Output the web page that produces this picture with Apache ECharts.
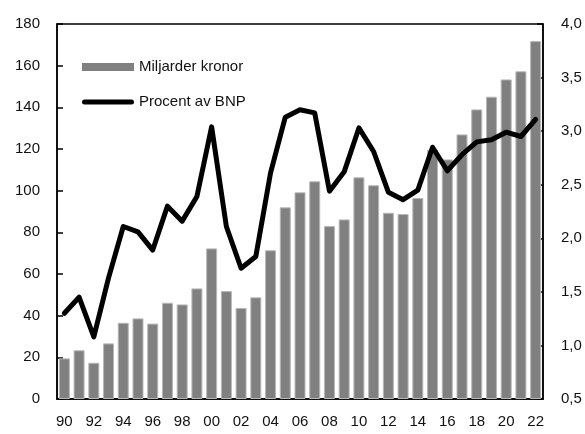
<!DOCTYPE html>
<html><head><meta charset="utf-8">
<script src="https://cdn.jsdelivr.net/npm/echarts@6/dist/echarts.min.js"></script>
<style>html,body{margin:0;padding:0;background:#fff}#c{width:585px;height:434px}</style>
</head><body><div id="c"></div>
<script>
const years = ['90','91','92','93','94','95','96','97','98','99','00','01','02','03','04','05','06','07','08','09','10','11','12','13','14','15','16','17','18','19','20','21','22'];
const miljarder = [19.5,23.4,17.4,26.7,36.6,38.7,36.2,46.2,45.4,53.1,72.3,51.8,43.7,48.8,71.4,92.0,99.2,104.5,83.0,86.2,106.4,102.6,89.4,88.8,96.5,119.5,115.0,127.0,139.0,145.1,153.4,157.3,171.8];
const procent = [1.30,1.45,1.08,1.63,2.11,2.06,1.89,2.30,2.16,2.39,3.04,2.11,1.72,1.83,2.61,3.13,3.20,3.17,2.44,2.62,3.03,2.81,2.43,2.36,2.45,2.85,2.63,2.78,2.90,2.92,2.99,2.95,3.11];
const seriesNames = ['Miljarder kronor','Procent av BNP'];

const FONT = '"Liberation Sans Narrow","Liberation Sans",Arial,sans-serif';
const txt = {fontFamily:FONT,fontSize:15,color:'#111'};
const chart = echarts.init(document.getElementById('c'), null, {renderer:'canvas'});
chart.setOption({
  animation:false,
  textStyle:{fontFamily:FONT},
  grid:{left:57,right:42,top:24,bottom:35,show:true,borderColor:'#000',borderWidth:1.5,backgroundColor:'transparent'},
  legend:{
    orient:'vertical', left:77, top:52, itemWidth:52, itemHeight:8, itemGap:15,
    textStyle:Object.assign({lineHeight:20},txt),
    data:[{name:seriesNames[0],icon:'rect',itemStyle:{borderWidth:0}},
          {name:seriesNames[1],icon:'path://M2.5,0 L49.5,0 A2.5,2.5 0 0 1 49.5,5 L2.5,5 A2.5,2.5 0 0 1 2.5,0 Z',symbolKeepAspect:true,itemStyle:{color:'#000'}}]
  },
  xAxis:{
    type:'category', data:years, boundaryGap:true,
    axisLine:{lineStyle:{color:'#000',width:1.5}},
    axisTick:{inside:true,length:6,interval:1,lineStyle:{color:'#000',width:1.5}},
    axisLabel:Object.assign({interval:1,margin:15},txt)
  },
  yAxis:[{
    type:'value', min:0, max:180, interval:20,
    axisLine:{show:true,lineStyle:{color:'#000',width:1.5}},
    axisTick:{show:true,inside:true,length:6,lineStyle:{color:'#000',width:1.5}},
    splitLine:{show:false},
    axisLabel:Object.assign({margin:17},txt)
  },{
    type:'value', min:0.5, max:4.0, interval:0.5, position:'right',
    axisLine:{show:true,lineStyle:{color:'#000',width:1.5}},
    axisTick:{show:true,inside:true,length:6,lineStyle:{color:'#000',width:1.5}},
    splitLine:{show:false},
    axisLabel:Object.assign({margin:18,formatter:v=>v.toFixed(1).replace('.',',')},txt)
  }],
  series:[{
    name:seriesNames[0], type:'bar', data:miljarder, barWidth:11, yAxisIndex:0,
    itemStyle:{color:'#808080',borderColor:'#b8b8b8',borderWidth:1}
  },{
    name:seriesNames[1], type:'line', data:procent, yAxisIndex:1,
    symbol:'none', showSymbol:false,
    lineStyle:{color:'#000',width:5,cap:'round',join:'round'},
    itemStyle:{color:'#000'}
  }]
});
</script></body></html>
